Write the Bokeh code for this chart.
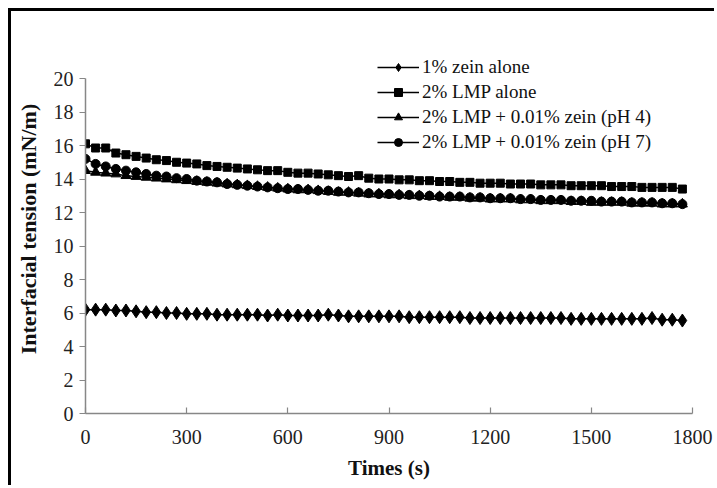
from bokeh.plotting import figure
from bokeh.models import Legend, LegendItem, FixedTicker, Range1d, ColumnDataSource
from bokeh.embed import file_html
from bokeh.resources import INLINE

time_s = [i * 30 for i in range(60)]

zein_alone = [6.2, 6.2, 6.2, 6.15, 6.15, 6.1, 6.05, 6.05, 6.0, 6.0,
              5.95, 5.95, 5.95, 5.9, 5.9, 5.9, 5.9, 5.9, 5.85, 5.9,
              5.85, 5.85, 5.85, 5.85, 5.9, 5.85, 5.8, 5.8, 5.8, 5.8,
              5.8, 5.8, 5.75, 5.75, 5.75, 5.75, 5.75, 5.75, 5.7, 5.7,
              5.7, 5.7, 5.7, 5.7, 5.7, 5.7, 5.7, 5.7, 5.65, 5.65,
              5.65, 5.65, 5.65, 5.65, 5.65, 5.65, 5.7, 5.6, 5.6, 5.55]

lmp_alone = [16.1, 15.85, 15.85, 15.55, 15.45, 15.35, 15.25, 15.15, 15.1, 15.0,
             14.95, 14.9, 14.8, 14.75, 14.7, 14.65, 14.6, 14.55, 14.5, 14.5,
             14.4, 14.35, 14.35, 14.3, 14.25, 14.2, 14.15, 14.2, 14.05, 14.0,
             14.0, 13.95, 13.95, 13.9, 13.9, 13.85, 13.85, 13.8, 13.8, 13.75,
             13.75, 13.75, 13.7, 13.7, 13.7, 13.65, 13.65, 13.65, 13.6, 13.6,
             13.6, 13.6, 13.55, 13.55, 13.55, 13.5, 13.5, 13.5, 13.5, 13.4]

lmp_zein_ph4 = [14.5, 14.4, 14.35, 14.3, 14.2, 14.15, 14.1, 14.05, 14.0, 13.95,
                13.9, 13.85, 13.8, 13.75, 13.7, 13.65, 13.6, 13.55, 13.5, 13.45,
                13.4, 13.35, 13.35, 13.3, 13.25, 13.2, 13.2, 13.15, 13.1, 13.1,
                13.05, 13.05, 13.0, 13.0, 12.95, 12.95, 12.9, 12.9, 12.85, 12.85,
                12.8, 12.8, 12.8, 12.75, 12.75, 12.7, 12.7, 12.7, 12.65, 12.65,
                12.6, 12.6, 12.6, 12.6, 12.55, 12.55, 12.55, 12.5, 12.5, 12.5]

lmp_zein_ph7 = [15.2, 14.9, 14.75, 14.6, 14.5, 14.4, 14.3, 14.2, 14.15, 14.05,
                14.0, 13.9, 13.85, 13.8, 13.7, 13.65, 13.6, 13.55, 13.5, 13.45,
                13.4, 13.4, 13.35, 13.3, 13.3, 13.25, 13.2, 13.2, 13.15, 13.1,
                13.1, 13.05, 13.05, 13.0, 13.0, 12.95, 12.95, 12.95, 12.9, 12.9,
                12.85, 12.85, 12.85, 12.8, 12.8, 12.75, 12.75, 12.75, 12.7, 12.7,
                12.7, 12.65, 12.65, 12.65, 12.6, 12.6, 12.6, 12.55, 12.55, 12.5]

series_labels = ["1% zein alone", "2% LMP alone",
                 "2% LMP + 0.01% zein (pH 4)", "2% LMP + 0.01% zein (pH 7)"]
x_ticks = [0, 300, 600, 900, 1200, 1500, 1800]
y_ticks = [0, 2, 4, 6, 8, 10, 12, 14, 16, 18, 20]

FONT = "'Liberation Serif', 'Times New Roman', serif"
AX = "#878787"

p = figure(width=706, height=477, output_backend="svg", toolbar_location=None,
           x_range=Range1d(0, 1800), y_range=Range1d(0, 22.03),
           min_border_left=74, min_border_right=25, min_border_top=33,
           min_border_bottom=75)
p.margin = (8, 0, 0, 8)
p.styles = {"border-top": "3px solid black", "border-left": "3px solid black"}
p.outline_line_color = None
p.xgrid.visible = False
p.ygrid.visible = False
p.background_fill_color = "white"
p.border_fill_color = "white"

for ax in (p.xaxis[0], p.yaxis[0]):
    ax.axis_line_color = AX
    ax.axis_line_width = 1.5
    ax.major_tick_line_color = AX
    ax.major_tick_line_width = 1.2
    ax.minor_tick_line_color = None
    ax.major_label_text_font = FONT
    ax.major_label_text_font_size = "20px"
    ax.major_label_text_color = "#222222"
    ax.axis_label_text_font = FONT
    ax.axis_label_text_font_style = "bold"
    ax.axis_label_text_color = "#111111"

p.yaxis.bounds = (0, 20)
p.xaxis.axis_label_text_font_size = "21px"
p.yaxis.axis_label_text_font_size = "22px"
p.xaxis.ticker = FixedTicker(ticks=x_ticks)
p.yaxis.ticker = FixedTicker(ticks=y_ticks)
p.xaxis.major_tick_in = 6
p.xaxis.major_tick_out = 0
p.yaxis.major_tick_in = 0
p.yaxis.major_tick_out = 6
p.xaxis.major_label_standoff = 16
p.yaxis.major_label_standoff = 6
p.xaxis.axis_label = "Times (s)"
p.yaxis.axis_label = "Interfacial tension (mN/m)"
p.xaxis.axis_label_standoff = 9
p.yaxis.axis_label_standoff = 10

specs = [
    (zein_alone, "diamond", 13),
    (lmp_alone, "square", 8),
    (lmp_zein_ph4, "triangle", 10),
    (lmp_zein_ph7, "circle", 9),
]

items = []
for (vals, marker, size), label in zip(specs, series_labels):
    src = ColumnDataSource(data=dict(t=time_s, v=vals))
    ln = p.line("t", "v", source=src, line_color="black", line_width=1.5)
    sc = p.scatter("t", "v", source=src, marker=marker, size=size,
                   fill_color="black", line_color="black")
    items.append(LegendItem(label=label, renderers=[ln, sc]))

legend = Legend(items=items, location=(292, 260), orientation="vertical",
                glyph_width=42, glyph_height=20, spacing=3, padding=0,
                margin=0, label_standoff=3,
                label_text_font=FONT, label_text_font_size="19px",
                label_text_color="#111111",
                border_line_color=None, background_fill_alpha=0)
p.add_layout(legend, "center")

open("out.html", "w").write(file_html(p, INLINE))
